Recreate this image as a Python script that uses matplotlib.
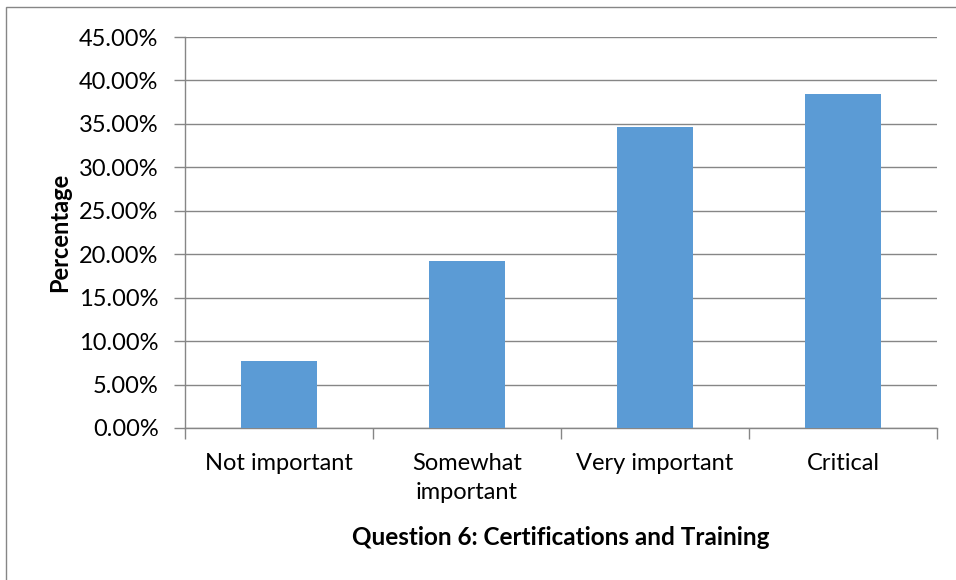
import numpy as np
import matplotlib.pyplot as plt
from matplotlib.patches import Rectangle
from matplotlib.ticker import FuncFormatter

plt.rcParams['font.family'] = ['Lato', 'DejaVu Sans']

# data
categories = ['Not important', 'Somewhat\nimportant', 'Very important', 'Critical']
values = [7.69, 19.23, 34.62, 38.46]
yticks = [0, 5, 10, 15, 20, 25, 30, 35, 40, 45]

fig = plt.figure(figsize=(9.56, 5.8), dpi=100)
ax = fig.add_axes([185 / 956, 1 - 428 / 580, (937 - 185) / 956, (428 - 37) / 580])

x = np.arange(len(categories))
ax.bar(x, values, width=0.4, color='#5B9BD5', zorder=3)

ax.set_xlim(-0.5, len(categories) - 0.5)
ax.set_ylim(0, 45)
ax.set_yticks(yticks)
ax.yaxis.set_major_formatter(FuncFormatter(lambda v, p: '%.2f%%' % v))
ax.grid(axis='y', color='#868686', linewidth=1, zorder=0)

# category ticks sit between the bars, labels at bar centres
ax.set_xticks(np.arange(len(categories) + 1) - 0.5)
ax.set_xticklabels([])
ax.set_xticks(x, minor=True)
ax.set_xticklabels(categories, minor=True, fontsize=17, linespacing=1.45)
ax.tick_params(axis='x', which='minor', length=0, pad=18)
ax.tick_params(axis='x', which='major', length=8, color='#868686', width=1)
ax.tick_params(axis='y', length=8, color='#868686', width=1, labelsize=17, pad=11)

for side in ['top', 'right']:
    ax.spines[side].set_visible(False)
for side in ['left', 'bottom']:
    ax.spines[side].set_color('#868686')
    ax.spines[side].set_linewidth(1)

ax.set_ylabel('Percentage', fontsize=17, fontweight='bold', labelpad=6)
ax.set_xlabel('Question 6: Certifications and Training', fontsize=17.5, fontweight='bold', labelpad=17)

# chart border
fig.patches.append(Rectangle((6 / 956, -0.1), 1.1, 1 - 7 / 580 + 0.1, transform=fig.transFigure,
                             fill=False, edgecolor='#868686', linewidth=1))

plt.savefig('out.png', dpi=100)
